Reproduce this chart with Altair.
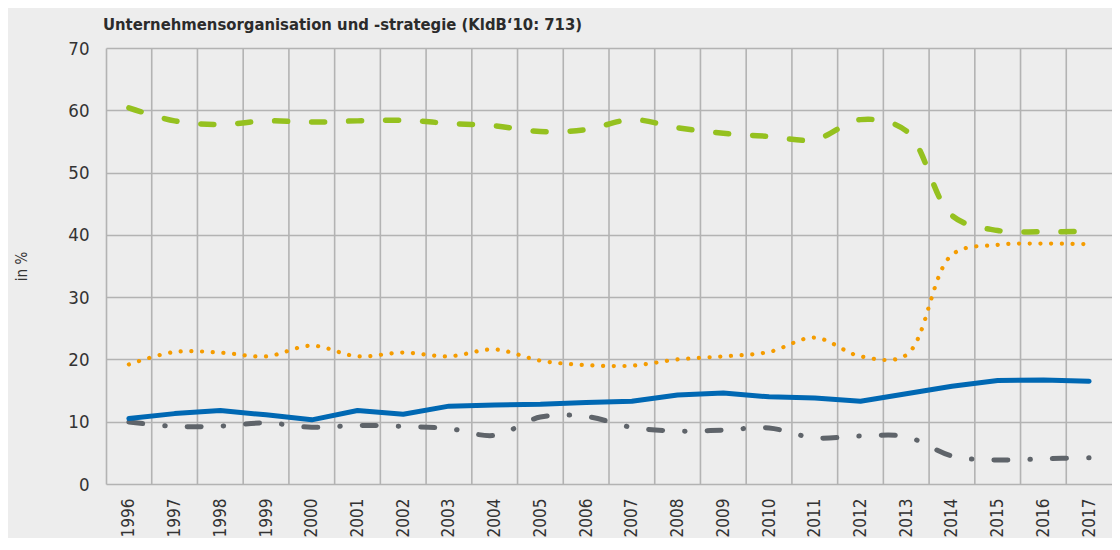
import altair as alt
import pandas as pd

years = list(range(1996, 2018))

series_names = ["Blau", "Grün", "Orange", "Grau"]

blue = [10.5, 11.3, 11.8, 11.1, 10.3, 11.8, 11.2, 12.5, 12.7, 12.8, 13.1,
        13.3, 14.3, 14.6, 14.0, 13.8, 13.3, 14.5, 15.7, 16.6, 16.7, 16.5]
green = [60.4, 58.3, 57.7, 58.3, 58.1, 58.3, 58.4, 57.9, 57.5, 56.6, 56.9,
         58.5, 57.2, 56.3, 55.8, 55.3, 58.5, 56.7, 43.1, 40.7, 40.5, 40.6]
orange = [19.2, 21.2, 21.1, 20.5, 22.2, 20.5, 21.1, 20.5, 21.6, 19.8, 19.1,
          19.0, 20.0, 20.5, 21.2, 23.5, 20.5, 20.7, 36.8, 38.4, 38.6, 38.5]
gray = [9.95, 9.25, 9.3, 9.8, 9.1, 9.4, 9.25, 8.9, 7.8, 10.75, 10.85,
        9.1, 8.5, 8.65, 9.0, 7.4, 7.7, 7.6, 4.5, 3.85, 4.05, 4.2]

y_ticks = [0, 10, 20, 30, 40, 50, 60, 70]

title_text = "Unternehmensorganisation und -strategie (KldB‘10: 713)"
y_title = "in %"

FONT = "DejaVu Sans Condensed, Liberation Sans Narrow, Roboto, sans-serif"
GRID = "#b3b3b3"
BG = "#ededed"

W, H = 1006, 436
x_domain = [years[0] - 0.5, years[-1] + 0.5]

def frame(vals):
    return pd.DataFrame({"Jahr": years, "Wert": vals})

boundaries = pd.DataFrame({"b": [y + 0.5 for y in years[:-1]]})

xscale = alt.Scale(domain=x_domain, nice=False, zero=False)
yscale = alt.Scale(domain=[0, 70], nice=False)

xaxis = alt.Axis(values=years, format="d", labelAngle=-90, labelAlign="right",
                 labelBaseline="middle", labelFont=FONT, labelFontSize=17,
                 labelColor="#333333", labelPadding=14, ticks=False, tickSize=0,
                 grid=False, domain=False, title=None, labelOverlap=False)
yaxis = alt.Axis(values=y_ticks, labelFont=FONT, labelFontSize=18.5,
                 labelColor="#333333", labelPadding=17, ticks=False, tickSize=0,
                 grid=True, gridColor=GRID, gridWidth=1.6, domain=True,
                 domainColor=GRID, domainWidth=1.6, title=y_title,
                 titleFont=FONT, titleFontSize=15, titleFontWeight="normal",
                 titleColor="#333333", titleX=-85, titleY=H / 2,
                 titleAngle=270, titleAlign="center", titleBaseline="middle")

vgrid = alt.Chart(boundaries).mark_rule(color=GRID, strokeWidth=1.6).encode(
    x=alt.X("b:Q", scale=xscale, axis=xaxis),
    y=alt.value(0), y2=alt.value(H),
)

base_x = alt.X("Jahr:Q", scale=xscale, axis=xaxis)
base_y = alt.Y("Wert:Q", scale=yscale, axis=yaxis)

l_green = alt.Chart(frame(green)).mark_line(
    color="#95c11f", strokeWidth=5.5, strokeDash=[13, 24], strokeCap="round",
    interpolate="catmull-rom").encode(x=base_x, y=base_y)
l_orange = alt.Chart(frame(orange)).mark_line(
    color="#f59c00", strokeWidth=4.2, strokeDash=[0.1, 10.6], strokeCap="round",
    interpolate="catmull-rom").encode(x=base_x, y=base_y)
l_gray = alt.Chart(frame(gray)).mark_line(
    color="#5f646a", strokeWidth=5, strokeDash=[14, 22, 0.5, 22], strokeCap="round",
    interpolate="catmull-rom").encode(x=base_x, y=base_y)
l_blue = alt.Chart(frame(blue)).mark_line(
    color="#0068b3", strokeWidth=5, strokeCap="round", strokeJoin="round").encode(
    x=base_x, y=base_y)

chart = alt.layer(vgrid, l_gray, l_orange, l_green, l_blue).properties(
    width=W, height=H,
    autosize=alt.AutoSizeParams(type="none"),
    padding={"left": 98, "top": 40, "right": 0, "bottom": 54},
    background=BG,
    title=alt.TitleParams(title_text, anchor="start", frame="group",
                          font=FONT, fontSize=16.5, fontWeight="bold",
                          color="#2b2b2b", offset=6, dx=-3),
).configure_view(stroke=None)

chart.save("out.html", embed_options={"renderer": "svg", "actions": False})
